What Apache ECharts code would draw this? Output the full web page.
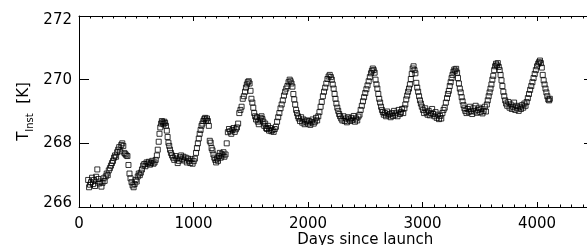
<!DOCTYPE html>
<html>
<head>
<meta charset="utf-8">
<script src="https://cdn.jsdelivr.net/npm/echarts@6/dist/echarts.min.js"></script>
<style>
  html, body { margin: 0; padding: 0; background: #fff; }
  #chart { width: 587px; height: 245px; }
</style>
</head>
<body>
<div id="chart"></div>
<script>
// days since launch and instrument temperature [K]
var days = [
  80, 88, 96, 105, 114, 122, 131, 140, 150, 160, 169, 178, 187, 196, 205, 214, 224, 233, 242, 251,
  260, 270, 279, 288, 297, 306, 315, 324, 333, 342, 351, 360, 369, 378, 387, 396, 405, 414, 423, 432,
  441, 450, 459, 468, 477, 486, 495, 504, 513, 522, 531, 540, 550, 560, 570, 580, 590, 600, 610, 620,
  630, 640, 650, 660, 670, 680, 688, 696, 703, 710, 717, 724, 731, 738, 745, 752, 760, 767, 774, 781,
  788, 795, 803, 812, 822, 832, 842, 852, 862, 872, 882, 892, 902, 912, 922, 932, 942, 952, 962, 972,
  982, 992, 1002, 1012, 1022, 1030, 1038, 1046, 1054, 1062, 1070, 1078, 1086, 1094, 1102, 1110, 1118, 1126, 1134, 1142,
  1150, 1158, 1166, 1174, 1182, 1190, 1198, 1206, 1214, 1222, 1230, 1238, 1246, 1254, 1262, 1270, 1280, 1290, 1300, 1310,
  1320, 1330, 1340, 1350, 1360, 1370, 1380, 1390, 1400, 1410, 1420, 1430, 1440, 1450, 1458, 1466, 1474, 1482, 1490, 1498,
  1506, 1514, 1522, 1530, 1538, 1546, 1554, 1562, 1570, 1578, 1586, 1594, 1602, 1610, 1618, 1626, 1634, 1642, 1650, 1660,
  1670, 1680, 1690, 1700, 1710, 1720, 1730, 1740, 1750, 1760, 1770, 1780, 1790, 1800, 1810, 1820, 1830, 1840, 1848, 1856,
  1864, 1872, 1880, 1888, 1896, 1904, 1912, 1920, 1930, 1940, 1950, 1960, 1970, 1980, 1990, 2000, 2010, 2020, 2030, 2040,
  2050, 2060, 2070, 2080, 2090, 2100, 2110, 2120, 2130, 2140, 2150, 2160, 2170, 2180, 2190, 2200, 2208, 2216, 2224, 2232,
  2240, 2248, 2256, 2264, 2272, 2280, 2290, 2300, 2310, 2320, 2330, 2340, 2350, 2360, 2370, 2380, 2390, 2400, 2410, 2420,
  2430, 2440, 2450, 2460, 2470, 2480, 2490, 2500, 2510, 2520, 2530, 2540, 2550, 2558, 2566, 2574, 2582, 2590, 2598, 2606,
  2614, 2622, 2630, 2638, 2646, 2654, 2662, 2672, 2682, 2692, 2702, 2712, 2722, 2732, 2742, 2752, 2762, 2772, 2782, 2792,
  2802, 2812, 2822, 2832, 2842, 2850, 2858, 2866, 2874, 2882, 2890, 2898, 2906, 2914, 2922, 2930, 2938, 2946, 2954, 2962,
  2970, 2978, 2986, 2994, 3004, 3014, 3024, 3034, 3044, 3054, 3064, 3074, 3084, 3094, 3104, 3114, 3124, 3134, 3144, 3154,
  3164, 3174, 3184, 3194, 3204, 3214, 3222, 3230, 3238, 3246, 3254, 3262, 3270, 3278, 3286, 3294, 3302, 3310, 3318, 3326,
  3334, 3342, 3350, 3358, 3366, 3374, 3384, 3394, 3404, 3414, 3424, 3434, 3444, 3454, 3464, 3474, 3484, 3494, 3504, 3514,
  3524, 3534, 3544, 3554, 3562, 3570, 3578, 3586, 3594, 3602, 3610, 3618, 3626, 3634, 3642, 3650, 3658, 3666, 3674, 3682,
  3690, 3698, 3706, 3714, 3722, 3730, 3740, 3750, 3760, 3770, 3780, 3790, 3800, 3810, 3820, 3830, 3840, 3850, 3860, 3870,
  3880, 3890, 3900, 3910, 3920, 3930, 3940, 3950, 3960, 3970, 3980, 3990, 4000, 4010, 4018, 4026, 4034, 4042, 4050, 4058,
  4066, 4074, 4082, 4090, 4098, 4106, 4112
];
var tInst = [
  266.85, 266.62, 266.70, 266.78, 266.92, 266.72, 266.85, 266.66, 266.95, 267.18, 266.88, 266.74, 266.80, 266.64, 266.76, 266.90, 266.82, 266.96, 267.05, 267.00,
  267.15, 267.22, 267.30, 267.38, 267.45, 267.55, 267.62, 267.58, 267.72, 267.80, 267.88, 267.75, 267.95, 268.00, 267.92, 267.70, 267.66, 267.62, 267.60, 267.32,
  267.05, 266.90, 266.78, 266.68, 266.62, 266.72, 266.85, 266.80, 266.96, 267.05, 267.00, 267.08, 267.18, 267.30, 267.35, 267.28, 267.40, 267.36, 267.42, 267.33,
  267.38, 267.45, 267.36, 267.40, 267.48, 267.62, 267.80, 268.05, 268.30, 268.50, 268.62, 268.70, 268.66, 268.60, 268.68, 268.64, 268.55, 268.40, 268.20, 268.02,
  267.92, 267.80, 267.70, 267.62, 267.55, 267.48, 267.60, 267.52, 267.38, 267.45, 267.56, 267.62, 267.50, 267.58, 267.46, 267.55, 267.40, 267.52, 267.45, 267.38,
  267.50, 267.36, 267.44, 267.52, 267.70, 267.85, 268.00, 268.15, 268.30, 268.42, 268.55, 268.62, 268.70, 268.76, 268.80, 268.72, 268.78, 268.70, 268.55, 268.08,
  268.02, 267.85, 267.78, 267.65, 267.55, 267.48, 267.40, 267.52, 267.45, 267.60, 267.70, 267.55, 267.66, 267.62, 267.72, 267.58, 267.65, 268.00, 268.35, 268.45,
  268.38, 268.30, 268.42, 268.48, 268.36, 268.44, 268.50, 268.62, 268.95, 269.05, 269.15, 269.40, 269.48, 269.62, 269.75, 269.85, 269.92, 269.95, 269.88, 269.65,
  269.40, 269.28, 269.12, 268.95, 268.85, 268.75, 268.82, 268.68, 268.60, 268.72, 268.80, 268.85, 268.76, 268.68, 268.55, 268.62, 268.48, 268.45, 268.55, 268.40,
  268.48, 268.38, 268.42, 268.36, 268.45, 268.52, 268.68, 268.82, 268.95, 269.10, 269.22, 269.35, 269.50, 269.62, 269.72, 269.80, 269.92, 270.00, 269.95, 269.88,
  269.78, 269.55, 269.38, 269.22, 269.05, 268.95, 268.85, 268.78, 268.70, 268.82, 268.65, 268.75, 268.60, 268.68, 268.72, 268.62, 268.70, 268.58, 268.66, 268.75,
  268.62, 268.68, 268.80, 268.72, 268.85, 268.98, 269.15, 269.30, 269.48, 269.62, 269.75, 269.88, 270.02, 270.10, 270.15, 270.08, 270.00, 269.85, 269.72, 269.55,
  269.40, 269.25, 269.12, 269.02, 268.92, 268.85, 268.78, 268.72, 268.85, 268.70, 268.78, 268.66, 268.82, 268.75, 268.70, 268.80, 268.74, 268.86, 268.68, 268.78,
  268.72, 268.84, 268.90, 269.05, 269.18, 269.32, 269.45, 269.58, 269.70, 269.82, 269.95, 270.08, 270.20, 270.28, 270.35, 270.30, 270.22, 270.00, 269.85, 269.72,
  269.55, 269.40, 269.28, 269.15, 269.05, 268.98, 268.90, 268.95, 268.85, 269.00, 268.88, 268.92, 268.82, 268.95, 268.86, 269.02, 268.90, 268.96, 268.85, 269.05,
  268.92, 268.98, 269.08, 268.95, 269.10, 269.22, 269.38, 269.50, 269.62, 269.72, 269.85, 270.02, 270.18, 270.35, 270.42, 270.30, 270.20, 269.90, 269.75, 269.62,
  269.48, 269.35, 269.25, 269.15, 269.05, 268.95, 269.10, 268.98, 268.90, 269.02, 268.88, 268.95, 269.08, 268.92, 268.85, 268.98, 268.80, 268.90, 268.76, 268.86,
  268.78, 268.95, 269.05, 269.12, 269.28, 269.42, 269.55, 269.65, 269.80, 269.92, 270.05, 270.15, 270.25, 270.32, 270.28, 270.34, 270.22, 270.05, 269.88, 269.72,
  269.60, 269.45, 269.32, 269.20, 269.10, 269.02, 268.95, 269.08, 268.98, 269.15, 269.02, 268.92, 269.10, 269.00, 269.18, 268.96, 269.05, 269.12, 268.98, 269.08,
  268.94, 269.02, 269.15, 269.00, 269.22, 269.35, 269.48, 269.60, 269.72, 269.85, 270.00, 270.12, 270.30, 270.42, 270.50, 270.45, 270.52, 270.40, 270.30, 270.15,
  269.98, 269.80, 269.62, 269.48, 269.35, 269.25, 269.18, 269.30, 269.12, 269.22, 269.08, 269.15, 269.28, 269.05, 269.18, 269.10, 269.02, 269.15, 269.08, 269.20,
  269.12, 269.25, 269.18, 269.30, 269.42, 269.55, 269.68, 269.80, 269.92, 270.05, 270.18, 270.30, 270.42, 270.50, 270.55, 270.60, 270.52, 270.38, 270.15, 269.98,
  269.85, 269.72, 269.60, 269.48, 269.38, 269.35, 269.40
];
var xTicks = [0, 5000, 1000];   // min, max, step (axis runs past the right edge, frame at 4500)
var xFrameMax = 4500;
var yTicks = [266, 272, 2];

var font = 'DejaVu Sans';
var points = days.map(function(d, i) { return [d, tInst[i]]; });

var option = {
    animation: false,
    backgroundColor: '#fff',
    grid: {
        left: 79,
        top: 16,
        right: -64.5,
        bottom: 38,
        containLabel: false,
        outerBoundsMode: 'none'
    },
    xAxis: [{
        type: 'value',
        position: 'bottom',
        min: xTicks[0],
        max: xTicks[1],
        interval: xTicks[2],
        name: 'Days since launch',
        nameLocation: 'middle',
        nameGap: 26,
        nameMoveOverlap: false,
        nameTextStyle: { fontFamily: font, fontSize: 15, color: '#000' },
        axisLine: { show: true, onZero: false, lineStyle: { color: '#000', width: 1 } },
        axisTick: { inside: true, length: 5, lineStyle: { color: '#000' } },
        minorTick: { show: true, splitNumber: 10, length: 2.5, lineStyle: { color: '#000' } },
        splitLine: { show: false },
        axisLabel: {
            fontFamily: font, fontSize: 15, color: '#000', margin: 10,
            formatter: function(v) { return v > xFrameMax ? '' : String(v); }
        }
    }, {
        // top frame
        type: 'value',
        position: 'top',
        min: xTicks[0],
        max: xTicks[1],
        interval: xTicks[2],
        axisLine: { show: true, onZero: false, lineStyle: { color: '#000', width: 1 } },
        axisTick: { inside: true, length: 5, lineStyle: { color: '#000' } },
        minorTick: { show: true, splitNumber: 10, length: 2.5, lineStyle: { color: '#000' } },
        splitLine: { show: false },
        axisLabel: { show: false }
    }],
    yAxis: [{
        type: 'value',
        position: 'left',
        min: yTicks[0],
        max: yTicks[1],
        interval: yTicks[2],
        name: '{t|T}{s|Inst}{t|  [K]}',
        nameLocation: 'middle',
        nameRotate: 90,
        nameGap: 44,
        nameMoveOverlap: false,
        nameTextStyle: {
            fontFamily: font,
            color: '#000',
            rich: {
                t: { fontFamily: font, fontSize: 15, color: '#000', lineHeight: 22, verticalAlign: 'middle' },
                s: { fontFamily: font, fontSize: 10, color: '#000', lineHeight: 22, verticalAlign: 'bottom' }
            }
        },
        axisLine: { show: true, onZero: false, lineStyle: { color: '#000', width: 1 } },
        axisTick: { inside: true, length: 10, lineStyle: { color: '#000' } },
        splitLine: { show: false },
        axisLabel: {
            fontFamily: font, fontSize: 15, color: '#000', margin: 7,
            // end labels sit a little inside the frame, as in the original
            formatter: function(v) {
                if (v === yTicks[1]) return '{hi|' + v + '}';
                if (v === yTicks[0]) return '{lo|' + v + '}';
                return String(v);
            },
            rich: {
                hi: { fontFamily: font, fontSize: 15, color: '#000', padding: [8, 0, 0, 0] },
                lo: { fontFamily: font, fontSize: 15, color: '#000', padding: [0, 0, 8, 0] }
            }
        }
    }, {
        // right frame, pulled back to x = 4500
        type: 'value',
        position: 'right',
        offset: -57.5,
        min: yTicks[0],
        max: yTicks[1],
        interval: yTicks[2],
        axisLine: { show: true, onZero: false, lineStyle: { color: '#000', width: 1 } },
        axisTick: { inside: true, length: 10, lineStyle: { color: '#000' } },
        splitLine: { show: false },
        axisLabel: { show: false }
    }],
    series: [{
        type: 'scatter',
        data: points,
        symbol: 'rect',
        symbolSize: 5,
        itemStyle: {
            color: 'rgba(0,0,0,0)',
            borderColor: '#000',
            borderWidth: 1
        }
    }]
};

var myChart = echarts.init(document.getElementById('chart'));
myChart.setOption(option);
</script>
</body>
</html>
